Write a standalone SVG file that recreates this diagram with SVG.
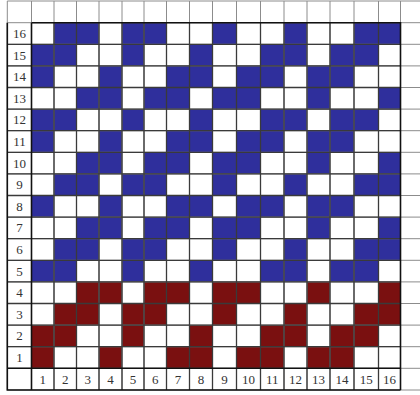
<svg xmlns="http://www.w3.org/2000/svg" xmlns:xlink="http://www.w3.org/1999/xlink" width="420" height="395" viewBox="0 0 420 395">
<style>
.b{fill:#2f2f9c}
.r{fill:#7a1010}
.gl{stroke:#8c8c8c;stroke-width:1;fill:none}
.gd{stroke:#3a3a3a;stroke-width:1.3;fill:none}
.gb{stroke:#111;stroke-width:1.6;fill:none}
text{font-family:"Liberation Serif","Times New Roman",serif;font-size:13px;fill:#333;text-anchor:middle}
</style>
<defs>
<g id="pA"><rect x="54" width="45" height="21.6"/><rect x="122" width="44.5" height="21.6"/><rect x="212.5" width="24" height="21.6"/><rect x="284" width="23" height="21.6"/><rect x="354" width="46.5" height="21.6"/></g>
<g id="pB"><rect x="31.5" width="45" height="21.6"/><rect x="122" width="22" height="21.6"/><rect x="189.5" width="23" height="21.6"/><rect x="260.5" width="46.5" height="21.6"/><rect x="330" width="48.5" height="21.6"/></g>
<g id="pC"><rect x="31.5" width="22.5" height="21.6"/><rect x="99" width="23" height="21.6"/><rect x="166.5" width="46" height="21.6"/><rect x="236.5" width="47.5" height="21.6"/><rect x="307" width="47" height="21.6"/></g>
<g id="pD"><rect x="76.5" width="45.5" height="21.6"/><rect x="144" width="45.5" height="21.6"/><rect x="212.5" width="48" height="21.6"/><rect x="307" width="23" height="21.6"/><rect x="378.5" width="22" height="21.6"/></g>
</defs>
<rect width="420" height="395" fill="#fff"/>
<g id="cells">
<use xlink:href="#pA" y="22.7" class="b"/>
<use xlink:href="#pB" y="44.3" class="b"/>
<use xlink:href="#pC" y="65.9" class="b"/>
<use xlink:href="#pD" y="87.5" class="b"/>
<use xlink:href="#pB" y="109.1" class="b"/>
<use xlink:href="#pC" y="130.7" class="b"/>
<use xlink:href="#pD" y="152.3" class="b"/>
<use xlink:href="#pA" y="173.9" class="b"/>
<use xlink:href="#pC" y="195.5" class="b"/>
<use xlink:href="#pD" y="217.1" class="b"/>
<use xlink:href="#pA" y="238.7" class="b"/>
<use xlink:href="#pB" y="260.3" class="b"/>
<use xlink:href="#pD" y="281.9" class="r"/>
<use xlink:href="#pA" y="303.5" class="r"/>
<use xlink:href="#pB" y="325.1" class="r"/>
<use xlink:href="#pC" y="346.7" class="r"/>
</g>
<g id="grid">
<path class="gl" d="M7.3 1V390M31.5 1V390M54 1V390M76.5 1V390M99 1V390M122 1V390M144 1V390M166.5 1V390M189.5 1V390M212.5 1V390M236.5 1V390M260.5 1V390M284 1V390M307 1V390M330 1V390M354 1V390M378.5 1V390M400.5 1V390M7.3 1H420M7.3 22.7H420M7.3 44.3H420M7.3 65.9H420M7.3 87.5H420M7.3 109.1H420M7.3 130.7H420M7.3 152.3H420M7.3 173.9H420M7.3 195.5H420M7.3 217.1H420M7.3 238.7H420M7.3 260.3H420M7.3 281.9H420M7.3 303.5H420M7.3 325.1H420M7.3 346.7H420M7.3 368.3H420M7.3 390H420"/>
<path class="gd" d="M54 22.7V390M76.5 22.7V390M99 22.7V390M122 22.7V390M144 22.7V390M166.5 22.7V390M189.5 22.7V390M212.5 22.7V390M236.5 22.7V390M260.5 22.7V390M284 22.7V390M307 22.7V390M330 22.7V390M354 22.7V390M378.5 22.7V390M7.3 44.3H400.5M7.3 65.9H400.5M7.3 87.5H400.5M7.3 109.1H400.5M7.3 130.7H400.5M7.3 152.3H400.5M7.3 173.9H400.5M7.3 195.5H400.5M7.3 217.1H400.5M7.3 238.7H400.5M7.3 260.3H400.5M7.3 281.9H400.5M7.3 303.5H400.5M7.3 325.1H400.5M7.3 346.7H400.5"/>
<path class="gb" d="M31.5 22.7H400.5V390M31.5 22.7V390M7.3 22.7V390H400.5M7.3 368.3H400.5"/>
</g>
<g id="rowlabels">
<text x="19.5" y="38">16</text>
<text x="19.5" y="59.6">15</text>
<text x="19.5" y="81.2">14</text>
<text x="19.5" y="102.8">13</text>
<text x="19.5" y="124.4">12</text>
<text x="19.5" y="146">11</text>
<text x="19.5" y="167.6">10</text>
<text x="19.5" y="189.2">9</text>
<text x="19.5" y="210.8">8</text>
<text x="19.5" y="232.4">7</text>
<text x="19.5" y="254">6</text>
<text x="19.5" y="275.6">5</text>
<text x="19.5" y="297.2">4</text>
<text x="19.5" y="318.8">3</text>
<text x="19.5" y="340.4">2</text>
<text x="19.5" y="362">1</text>
</g>
<g id="collabels">
<text x="42.8" y="384">1</text>
<text x="65.3" y="384">2</text>
<text x="87.8" y="384">3</text>
<text x="110.5" y="384">4</text>
<text x="133" y="384">5</text>
<text x="155.3" y="384">6</text>
<text x="178" y="384">7</text>
<text x="201" y="384">8</text>
<text x="224.5" y="384">9</text>
<text x="248.5" y="384">10</text>
<text x="272.3" y="384">11</text>
<text x="295.5" y="384">12</text>
<text x="318.5" y="384">13</text>
<text x="342" y="384">14</text>
<text x="366.3" y="384">15</text>
<text x="389.5" y="384">16</text>
</g>
</svg>
